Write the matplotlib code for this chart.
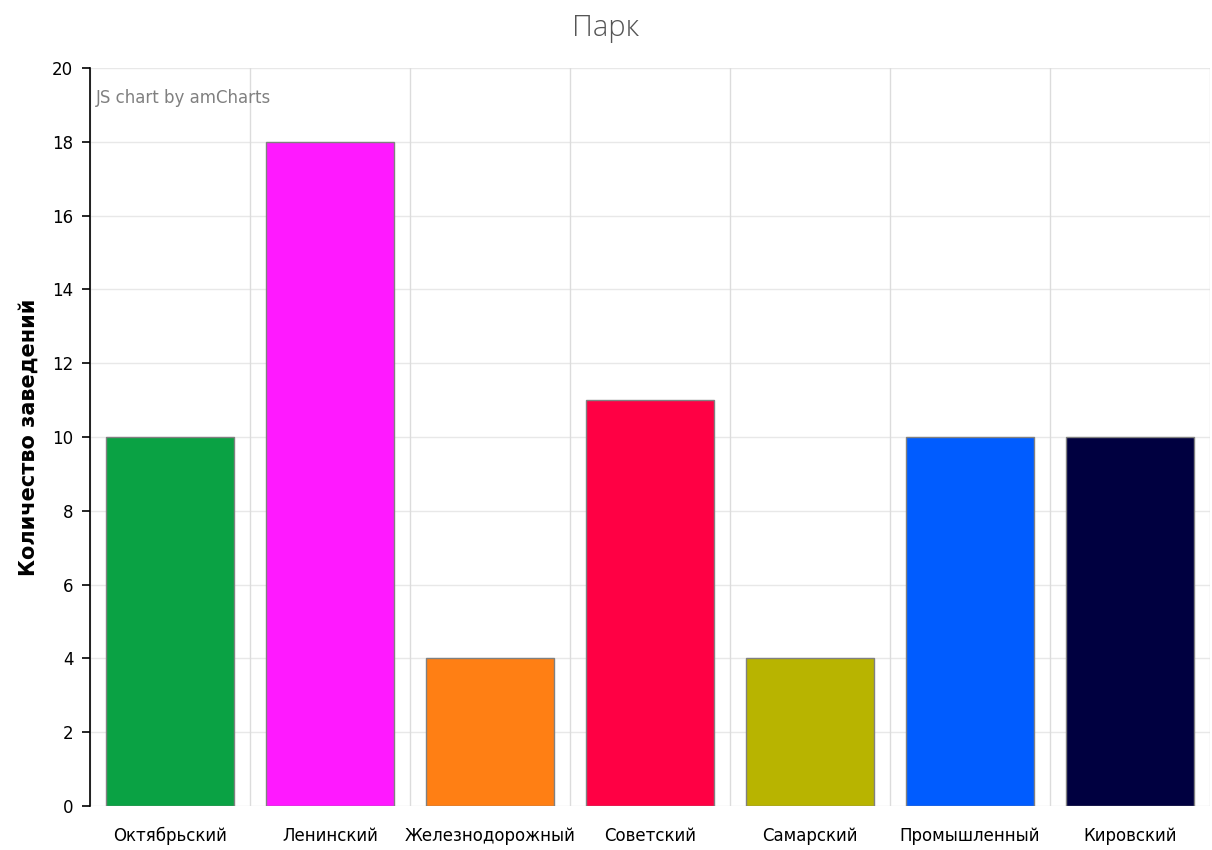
import matplotlib
matplotlib.use("Agg")
import matplotlib.pyplot as plt
import numpy as np

districts = ['Октябрьский', 'Ленинский', 'Железнодорожный', 'Советский',
             'Самарский', 'Промышленный', 'Кировский']
counts = [10, 18, 4, 11, 4, 10, 10]
colors = ['#0aa244', '#ff19ff', '#ff7f14', '#ff0044', '#b8b400', '#005cff', '#000040']
y_ticks = [0, 2, 4, 6, 8, 10, 12, 14, 16, 18, 20]

plt.rcParams['font.family'] = ['DejaVu Sans']

fig = plt.figure(figsize=(12.12, 8.5), dpi=100)
ax = fig.add_axes([90 / 1212, 1 - 806 / 850, 1120 / 1212, 738 / 850])

x = np.arange(len(districts))
ax.bar(x, counts, width=0.8, color=colors, edgecolor='#808080', linewidth=1, zorder=3)

ax.set_xlim(-0.5, len(districts) - 0.5)
ax.set_ylim(0, 20)
ax.set_yticks(y_ticks)
ax.set_yticklabels([str(t) for t in y_ticks], fontsize=12, color='#000000')
ax.set_xticks(x)
ax.set_xticklabels(districts, fontsize=12, color='#000000')
ax.tick_params(axis='x', length=0, pad=15)
ax.tick_params(axis='y', length=6, width=1.2, color='#000000', direction='out', pad=6)

# grid: horizontal at y ticks, vertical at category boundaries
for t in y_ticks:
    ax.axhline(t, color='#e8e8e8', linewidth=1, zorder=0)
for b in np.arange(len(districts) + 1) - 0.5:
    ax.axvline(b, color='#dcdcdc', linewidth=1, zorder=0)

for side in ['top', 'right', 'bottom']:
    ax.spines[side].set_visible(False)
ax.spines['left'].set_color('#000000')
ax.spines['left'].set_linewidth(1.2)

ax.set_ylabel('Количество заведений', fontsize=15, fontweight='bold', labelpad=10)
fig.text(0.5, 1 - 28 / 850, 'Парк', ha='center', va='center',
         fontsize=21, color='#555555', family='Open Sans', fontweight='light')
ax.text(0.005, 0.972, 'JS chart by amCharts', transform=ax.transAxes,
        ha='left', va='top', fontsize=12, color='#808080')

fig.savefig('out.png', dpi=100)
